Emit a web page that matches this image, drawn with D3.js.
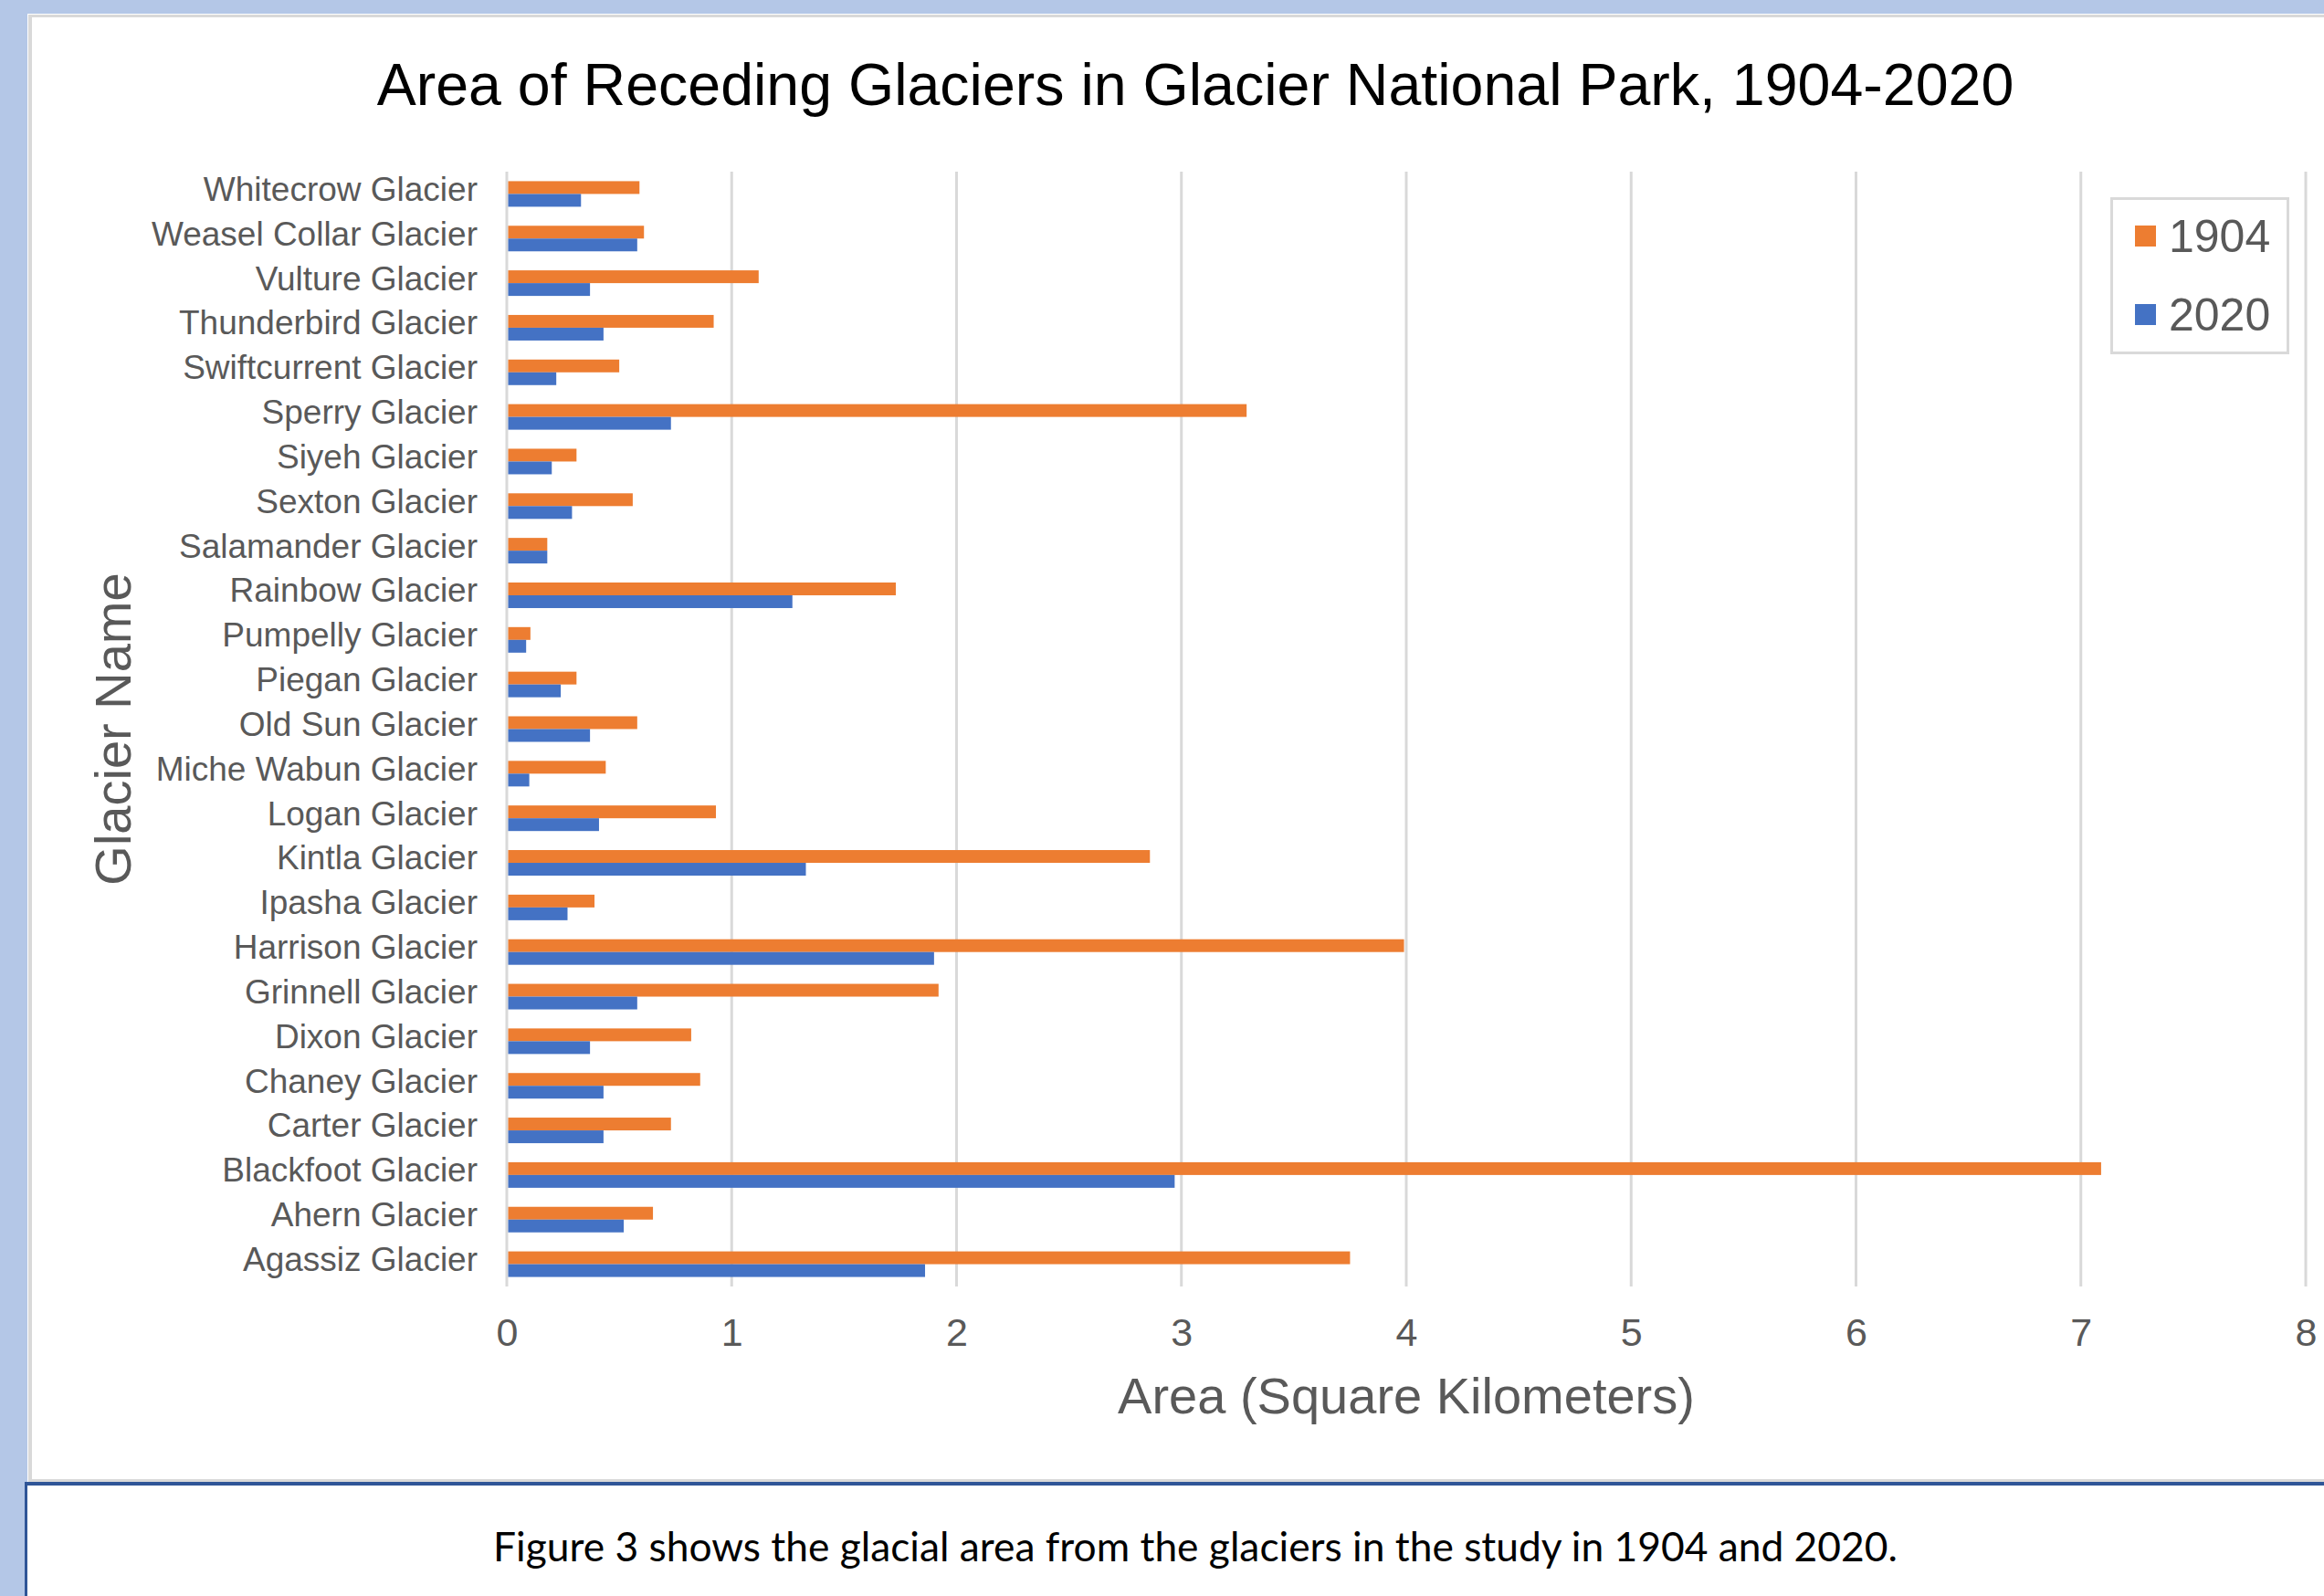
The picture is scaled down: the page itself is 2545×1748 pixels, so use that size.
<!DOCTYPE html>
<html>
<head>
<meta charset="utf-8">
<script src="https://cdn.jsdelivr.net/npm/d3@7"></script>
<style>
  html, body { margin: 0; padding: 0; background: #b4c7e7; }
  svg { display: block; }
</style>
</head>
<body>
<script>
// ---------- data ----------
const categories = [
  "Whitecrow Glacier", "Weasel Collar Glacier", "Vulture Glacier", "Thunderbird Glacier",
  "Swiftcurrent Glacier", "Sperry Glacier", "Siyeh Glacier", "Sexton Glacier",
  "Salamander Glacier", "Rainbow Glacier", "Pumpelly Glacier", "Piegan Glacier",
  "Old Sun Glacier", "Miche Wabun Glacier", "Logan Glacier", "Kintla Glacier",
  "Ipasha Glacier", "Harrison Glacier", "Grinnell Glacier", "Dixon Glacier",
  "Chaney Glacier", "Carter Glacier", "Blackfoot Glacier", "Ahern Glacier", "Agassiz Glacier"
];
const area1904 = [0.59, 0.61, 1.12, 0.92, 0.50, 3.29, 0.31, 0.56, 0.18, 1.73, 0.105, 0.31,
                  0.58, 0.44, 0.93, 2.86, 0.39, 3.99, 1.92, 0.82, 0.86, 0.73, 7.09, 0.65, 3.75];
const area2020 = [0.33, 0.58, 0.37, 0.43, 0.22, 0.73, 0.20, 0.29, 0.18, 1.27, 0.086, 0.24,
                  0.37, 0.10, 0.41, 1.33, 0.27, 1.90, 0.58, 0.37, 0.43, 0.43, 2.97, 0.52, 1.86];
const seriesNames = ["1904", "2020"];
const seriesColors = ["#ed7d31", "#4472c4"];
const xTicks = [0, 1, 2, 3, 4, 5, 6, 7, 8];
const chartTitle = "Area of Receding Glaciers in Glacier National Park, 1904-2020";
const xTitle = "Area (Square Kilometers)";
const yTitle = "Glacier Name";
const caption = "Figure 3 shows the glacial area from the glaciers in the study in 1904 and 2020.";

// ---------- layout ----------
const W = 2545, H = 1748;
const plot = { left: 555, right: 2525, top: 188, bottom: 1409 };
const grey = "#595959";

const svg = d3.select("body").append("svg")
  .attr("width", W).attr("height", H)
  .attr("viewBox", `0 0 ${W} ${H}`);

// page background
svg.append("rect").attr("x", 0).attr("y", 0).attr("width", W).attr("height", H).attr("fill", "#b4c7e7");

// upper chart frame
svg.append("rect").attr("x", 30).attr("y", 15).attr("width", W).attr("height", 1609).attr("fill", "#ffffff");
svg.append("rect").attr("x", 31).attr("y", 16).attr("width", W).attr("height", 1607).attr("fill", "#d9d9d9");
svg.append("rect").attr("x", 35).attr("y", 19).attr("width", W).attr("height", 1601).attr("fill", "#ffffff");

// lower caption frame
svg.append("rect").attr("x", 27).attr("y", 1623).attr("width", W).attr("height", 200).attr("fill", "#2f5597");
svg.append("rect").attr("x", 30).attr("y", 1627).attr("width", W).attr("height", 200).attr("fill", "#ffffff");

// ---------- scales ----------
const x = d3.scaleLinear().domain([0, 8]).range([plot.left, plot.right]);
const y = d3.scaleBand().domain(categories).range([plot.top, plot.bottom]).padding(0);
const ySub = d3.scaleBand().domain(seriesNames).range([0, y.bandwidth()])
  .paddingInner(0).paddingOuter(0.744);

// gridlines
svg.append("g").selectAll("line").data(xTicks).join("line")
  .attr("x1", d => x(d)).attr("x2", d => x(d))
  .attr("y1", plot.top).attr("y2", plot.bottom)
  .attr("stroke", "#d9d9d9").attr("stroke-width", 3);

// bars
const rows = categories.map((c, i) => ({ cat: c, vals: [area1904[i], area2020[i]] }));
const groups = svg.append("g").selectAll("g").data(rows).join("g")
  .attr("transform", d => `translate(0,${y(d.cat)})`);
groups.selectAll("rect").data(d => d.vals.map((v, k) => ({ key: seriesNames[k], v, k })))
  .join("rect")
  .attr("x", x(0) + 1.5)
  .attr("y", d => ySub(d.key))
  .attr("width", d => x(d.v) - x(0) - 1.5)
  .attr("height", ySub.bandwidth())
  .attr("fill", d => seriesColors[d.k]);

// y axis (category labels)
const yAxis = svg.append("g").attr("transform", `translate(${plot.left},0)`)
  .call(d3.axisLeft(y).tickSize(0).tickPadding(32));
yAxis.select(".domain").remove();
yAxis.selectAll("text")
  .attr("dy", "0.2em")
  .attr("fill", grey)
  .style("font-family", "'Liberation Sans', Arial, sans-serif")
  .style("font-size", "37px");

// x axis (tick labels)
const xAxis = svg.append("g").attr("transform", `translate(0,${plot.bottom})`)
  .call(d3.axisBottom(x).tickValues(xTicks).tickFormat(d3.format("d")).tickSize(0).tickPadding(34));
xAxis.select(".domain").remove();
xAxis.selectAll("text")
  .attr("fill", grey)
  .style("font-family", "'Liberation Sans', Arial, sans-serif")
  .style("font-size", "43px");

// title
svg.append("text")
  .attr("x", 1309).attr("y", 115)
  .attr("text-anchor", "middle")
  .attr("fill", "#000000")
  .style("font-family", "'Liberation Sans', Arial, sans-serif")
  .style("font-size", "64.5px")
  .text(chartTitle);

// x axis title
svg.append("text")
  .attr("x", (plot.left + plot.right) / 2).attr("y", 1548)
  .attr("text-anchor", "middle")
  .attr("fill", grey)
  .style("font-family", "'Liberation Sans', Arial, sans-serif")
  .style("font-size", "56px")
  .text(xTitle);

// y axis title
svg.append("text")
  .attr("transform", `translate(143,${(plot.top + plot.bottom) / 2}) rotate(-90)`)
  .attr("text-anchor", "middle")
  .attr("fill", grey)
  .style("font-family", "'Liberation Sans', Arial, sans-serif")
  .style("font-size", "56px")
  .text(yTitle);

// legend
const legend = svg.append("g");
legend.append("rect")
  .attr("x", 2312.5).attr("y", 217.5).attr("width", 193).attr("height", 169)
  .attr("fill", "#ffffff").attr("stroke", "#d9d9d9").attr("stroke-width", 3);
const legY = d3.scalePoint().domain(seriesNames).range([259, 345]);
const li = legend.selectAll("g.item").data(seriesNames).join("g").attr("class", "item")
  .attr("transform", d => `translate(0,${legY(d)})`);
li.append("rect")
  .attr("x", 2338).attr("y", -12).attr("width", 23).attr("height", 23)
  .attr("fill", (d, i) => seriesColors[i]);
li.append("text")
  .attr("x", 2375).attr("y", 17)
  .attr("fill", grey)
  .style("font-family", "'Liberation Sans', Arial, sans-serif")
  .style("font-size", "50px")
  .text(d => d);

// caption
const cap = svg.append("text")
  .attr("x", 1309).attr("y", 1710)
  .attr("text-anchor", "middle")
  .attr("fill", "#000000")
  .style("font-family", "Lato, 'Open Sans', sans-serif")
  .style("font-size", "44px")
  .text(caption);
const capLen = cap.node().getComputedTextLength();
cap.style("font-size", (44 * 1538 / capLen).toFixed(2) + "px");
</script>
</body>
</html>
